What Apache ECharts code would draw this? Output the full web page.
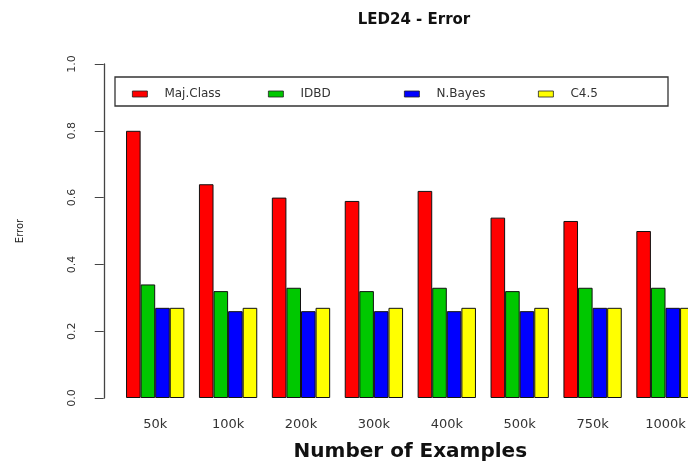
<!DOCTYPE html>
<html>
<head>
<meta charset="utf-8">
<script src="https://cdn.jsdelivr.net/npm/echarts@6/dist/echarts.min.js"></script>
<style>html,body{margin:0;padding:0;background:#fff;overflow:hidden;width:688px;height:461px}#c{width:720px;height:461px}</style>
</head>
<body>
<div id="c"></div>
<script>
const categories = ['50k','100k','200k','300k','400k','500k','750k','1000k'];
const seriesNames = ['Maj.Class','IDBD','N.Bayes','C4.5'];
const majClass = [0.80,0.64,0.60,0.59,0.62,0.54,0.53,0.50];
const idbd     = [0.34,0.32,0.33,0.32,0.33,0.32,0.33,0.33];
const nBayes   = [0.27,0.26,0.26,0.26,0.26,0.26,0.27,0.27];
const c45      = [0.27,0.27,0.27,0.27,0.27,0.27,0.27,0.27];
const yTicks = [0,0.2,0.4,0.6,0.8,1.0];
const colors = ['#ff0000','#00c800','#0000ff','#ffff00'];
const values = [majClass, idbd, nBayes, c45];

const font = 'DejaVu Sans, Liberation Sans, sans-serif';
const chart = echarts.init(document.getElementById('c'));
const legendLefts = [132, 268, 404, 538];
chart.setOption({
  animation: false,
  backgroundColor: '#fff',
  title: {
    text: 'LED24 - Error', left: 409, top: 8, textAlign: 'center',
    textStyle: {fontFamily: font, fontSize: 15, fontWeight: 'bold', color: '#111'}
  },
  graphic: [{
    type: 'rect', shape: {x: 115, y: 77, width: 553, height: 29},
    style: {fill: 'none', stroke: '#333', lineWidth: 1.3}, z: 0
  }],
  legend: seriesNames.map((n, i) => ({
    data: [{name: n, icon: 'rect'}], left: legendLefts[i], top: 88,
    itemWidth: 15, itemHeight: 6, selectedMode: false, padding: 0,
    itemStyle: {borderColor: '#222', borderWidth: 0.8},
    textStyle: {fontFamily: font, fontSize: 12, color: '#333', padding: [0,0,0,12]}
  })),
  grid: {left: 118.75, top: 64, width: 583.2, height: 334, containLabel: false, outerBoundsMode: 'none'},
  xAxis: {
    type: 'category', data: categories,
    axisLine: {show: false}, axisTick: {show: false},
    axisLabel: {fontFamily: font, fontSize: 13, color: '#333', margin: 20, interval: 0},
    name: 'Number of Examples', nameLocation: 'middle', nameGap: 44,
    nameTextStyle: {fontFamily: font, fontSize: 20, fontWeight: 'bold', color: '#111'}
  },
  yAxis: {
    type: 'value', min: 0, max: 1, interval: 0.2, offset: 15,
    axisLine: {show: true, lineStyle: {color: '#444', width: 1.3}},
    axisTick: {show: true, length: 9, lineStyle: {color: '#444'}},
    splitLine: {show: false},
    axisLabel: {fontFamily: font, fontSize: 11, color: '#333', rotate: 90, margin: 26,
      formatter: v => yTicks.some(t => Math.abs(t - v) < 1e-9) ? v.toFixed(1) : ''},
    name: 'Error', nameLocation: 'middle', nameGap: 78, nameRotate: 90,
    nameTextStyle: {fontFamily: font, fontSize: 10, color: '#222'}
  },
  series: seriesNames.map((n, i) => ({
    name: n, type: 'bar', data: values[i],
    barGap: '0%', barCategoryGap: '20%',
    itemStyle: {color: colors[i], borderColor: '#111', borderWidth: 1}
  }))
});
</script>
</body>
</html>
